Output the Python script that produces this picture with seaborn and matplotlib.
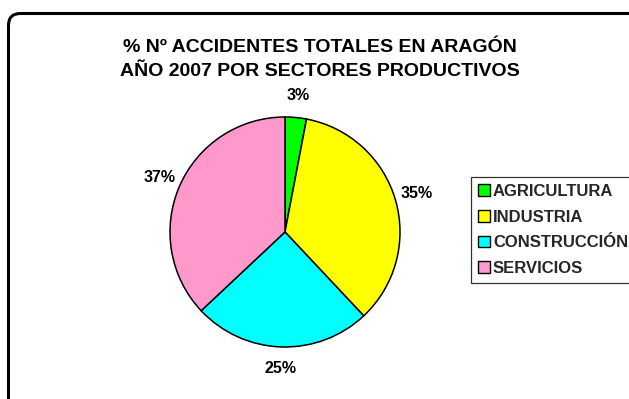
import matplotlib
matplotlib.use("Agg")
import matplotlib.pyplot as plt
from matplotlib.patches import FancyBboxPatch, Patch
import seaborn as sns

sns.set_theme(style="white")
plt.rcParams['font.family'] = ['Liberation Sans', 'DejaVu Sans']

# Data
sectores = ["AGRICULTURA", "INDUSTRIA", "CONSTRUCCIÓN", "SERVICIOS"]
porcentajes = [3, 35, 25, 37]
colores = ["#00FF00", "#FFFF00", "#00FFFF", "#FF99CC"]
titulo = ["% Nº ACCIDENTES TOTALES EN ARAGÓN", "AÑO 2007 POR SECTORES PRODUCTIVOS"]

W, H, DPI = 629, 399, 100
fig = plt.figure(figsize=(W / DPI, H / DPI), dpi=DPI)
fig.patch.set_facecolor("white")

# Background axes in pixel units for the rounded chart frame
bg = fig.add_axes([0, 0, 1, 1])
bg.set_xlim(0, W)
bg.set_ylim(H, 0)
bg.axis("off")
frame = FancyBboxPatch((8.5, 13.5), 660, 420,
                       boxstyle="round,pad=0,rounding_size=12",
                       facecolor="white", edgecolor="black",
                       linewidth=2.2, clip_on=False)
bg.add_patch(frame)

# Title
fig.text(320 / W, 1 - 47 / H, titulo[0], ha="center", va="center",
         fontsize=14, fontweight="bold", color="black")
fig.text(320 / W, 1 - 72 / H, titulo[1], ha="center", va="center",
         fontsize=14, fontweight="bold", color="black")

# Pie axes: centre (285, 232) px, radius 115 px
cx, cy, r = 285, 232, 115
half = 150
ax = fig.add_axes([(cx - half) / W, 1 - (cy + half) / H, 2 * half / W, 2 * half / H])

wedges, texts, autotexts = ax.pie(
    porcentajes, colors=colores, startangle=90, counterclock=False,
    radius=1, autopct=lambda p: f"{p:.0f}%", pctdistance=1.19,
    wedgeprops=dict(edgecolor="black", linewidth=1.1),
    textprops=dict(fontsize=11.5, fontweight="bold", color="black"),
)
lim = half / r
ax.set_xlim(-lim, lim)
ax.set_ylim(-lim, lim)
ax.axis("off")
for w in wedges:
    w.set_clip_on(False)

# Legend (box runs past the right edge of the figure)
handles = [Patch(facecolor=c, edgecolor="black", linewidth=1.0) for c in colores]
leg = fig.legend(handles, sectores, loc="upper left", mode="expand",
                 bbox_to_anchor=(471 / W, 1 - 177 / H, 180 / W, 0), borderaxespad=0,
                 frameon=True, fancybox=False, edgecolor="black",
                 prop=dict(size=12, weight="bold"),
                 handlelength=0.72, handleheight=0.72, handletextpad=0.18,
                 labelspacing=0.64, borderpad=0.42)
leg.get_frame().set_linewidth(0.9)
leg.get_frame().set_facecolor("white")

fig.savefig("out.png", dpi=DPI, facecolor="white")
